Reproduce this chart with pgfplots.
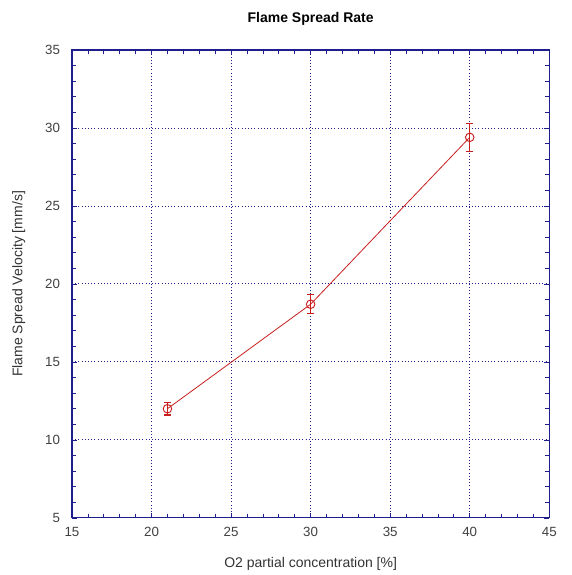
\documentclass[border=0pt]{standalone}
\usepackage{pgfplots}
\pgfplotsset{compat=1.18}
\usepackage{fontspec}
\setmainfont{Liberation Sans}
\definecolor{axblue}{RGB}{30,30,140}
\definecolor{linered}{RGB}{200,30,30}
\begin{document}
\begin{tikzpicture}
\begin{axis}[
    scale only axis,
    width=358pt, height=351pt,
    xmin=15, xmax=45,
    ymin=5, ymax=35,
    xtick={15,20,...,45},
    ytick={5,10,...,35},
    minor x tick num=4,
    minor y tick num=4,
    tick align=inside,
    major tick length=4pt,
    minor tick length=3pt,
    axis line style={axblue, line width=0.8pt},
    every tick/.style={axblue, line width=0.6pt},
    xmajorgrids, ymajorgrids,
    grid style={axblue, dotted, line width=0.7pt},
    tick label style={font=\fontsize{10}{12}\selectfont, text=black!75},
    yticklabel style={xshift=-5.5pt},
    xticklabel style={yshift=-3.5pt},
    /pgf/number format/assume math mode=true,
    xlabel={O2 partial concentration [\%]},
    ylabel={Flame Spread Velocity [mm/s]},
    label style={font=\fontsize{10.5}{12}\selectfont, text=black!80},
    xlabel style={at={(axis description cs:0.5,-0.074)}, anchor=north},
    ylabel style={at={(axis description cs:-0.088,0.5)}, anchor=south},
    title={\textbf{Flame Spread Rate}},
    title style={font=\fontsize{10.5}{12}\selectfont,
        at={(axis description cs:0.5,1.054)}, anchor=south, yshift=-10pt},
]
\addplot[
    color=linered, line width=0.6pt,
    mark=o, mark size=3.2pt,
    mark options={solid, line width=0.7pt},
    error bars/.cd, y dir=both, y explicit,
    error bar style={draw=linered, line width=1pt},
    error mark options={rotate=90, mark size=2.6pt, draw=linered, line width=0.8pt},
] coordinates {
    (21, 12.0) +- (0, 0.4)
    (30, 18.7) +- (0, 0.6)
    (40, 29.4) +- (0, 0.9)
};
\end{axis}
\pgfresetboundingbox
\path[use as bounding box]
    ([shift={(-54pt,-42.8pt)}]current axis.south west) rectangle
    ([shift={(16.5pt,37.5pt)}]current axis.north east);
\end{tikzpicture}
\end{document}
